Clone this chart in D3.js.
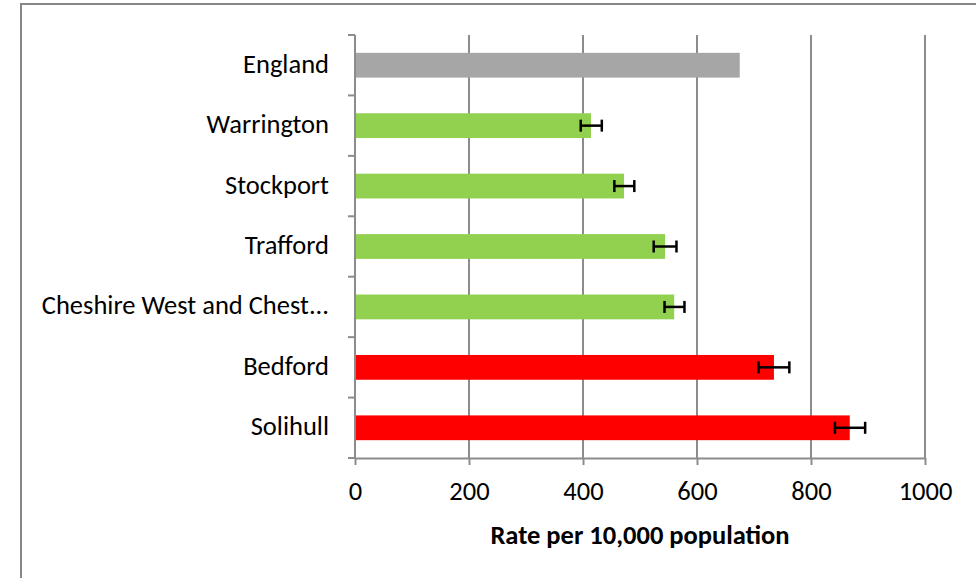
<!DOCTYPE html>
<html><head><meta charset="utf-8">
<script src="https://cdn.jsdelivr.net/npm/d3@7"></script>
<style>body{margin:0;background:#fff}svg{display:block}</style>
</head><body>
<svg id="c" width="976" height="578"></svg>
<script>
const categories = ["England","Warrington","Stockport","Trafford","Cheshire West and Chest...","Bedford","Solihull"];
const values = [675,414,472,544,560,735,868];
const lowerCI = [null,396,455,524,543,708,842];
const upperCI = [null,433,490,564,578,762,895];
const groups = ["england","better","better","better","better","worse","worse"];
const xTicks = [0,200,400,600,800,1000];
const xTitle = "Rate per 10,000 population";
const colors = {england:"#A6A6A6", better:"#92D050", worse:"#FF0000"};

(function(){
const svg = d3.select("#c");
const font = "Calibri, Carlito, 'Open Sans', sans-serif";
const fs = 26.5;
const pL = 355, pR = 925, pT = 35, pB = 458;

svg.append("rect").attr("x",21).attr("y",4).attr("width",1000).attr("height",1000)
  .attr("fill","#fff").attr("stroke","#878787").attr("stroke-width",2);

const x = d3.scaleLinear().domain([0,1000]).range([pL,pR]);
const y = d3.scaleBand().domain(categories).range([pT,pB]).paddingInner(0.59).paddingOuter(0.295);

// gridlines
svg.append("g").selectAll("line").data(xTicks.slice(1)).join("line")
  .attr("x1",d=>x(d)).attr("x2",d=>x(d)).attr("y1",pT).attr("y2",pB)
  .attr("stroke","#8c8c8c").attr("stroke-width",2);

// x axis
const xa = svg.append("g").attr("transform",`translate(0,${pB})`)
  .call(d3.axisBottom(x).tickValues(xTicks).tickFormat(d3.format("d")).tickSize(7).tickSizeOuter(0));
xa.select(".domain").attr("stroke","#8c8c8c").attr("stroke-width",2);
xa.selectAll(".tick line").attr("stroke","#8c8c8c").attr("stroke-width",2);
xa.selectAll("text").attr("font-family",font).attr("font-size",fs).attr("fill","#000")
  .attr("y",42).attr("dy",null);

// y axis
const yStep = (pB-pT)/categories.length;
const ya = svg.append("g").attr("transform",`translate(${pL},0)`);
ya.append("line").attr("x1",0).attr("x2",0).attr("y1",pT).attr("y2",pB).attr("stroke","#8c8c8c").attr("stroke-width",2);
ya.selectAll("line.t").data(d3.range(categories.length+1)).join("line").attr("class","t")
  .attr("x1",-7).attr("x2",0).attr("y1",i=>pT+i*yStep).attr("y2",i=>pT+i*yStep)
  .attr("stroke","#8c8c8c").attr("stroke-width",2);
ya.selectAll("text").data(categories).join("text")
  .attr("x",-26).attr("y",d=>y(d)+y.bandwidth()/2+7.5)
  .attr("text-anchor","end").attr("font-family",font).attr("font-size",fs).attr("fill","#000")
  .text(d=>d);

// bars
svg.append("g").selectAll("rect").data(categories).join("rect")
  .attr("x",x(0)+1).attr("y",d=>y(d)).attr("height",y.bandwidth())
  .attr("width",(d,i)=>x(values[i])-x(0)-1)
  .attr("fill",(d,i)=>colors[groups[i]]);

// error bars
const eb = svg.append("g").attr("stroke","#000").attr("stroke-width",2.5);
categories.forEach((c,i)=>{
  if(lowerCI[i]==null) return;
  const cy = y(c)+y.bandwidth()/2;
  eb.append("line").attr("x1",x(lowerCI[i])).attr("x2",x(upperCI[i])).attr("y1",cy).attr("y2",cy);
  eb.append("line").attr("x1",x(lowerCI[i])).attr("x2",x(lowerCI[i])).attr("y1",cy-6).attr("y2",cy+6);
  eb.append("line").attr("x1",x(upperCI[i])).attr("x2",x(upperCI[i])).attr("y1",cy-6).attr("y2",cy+6);
});

svg.append("text").attr("x",640).attr("y",544).attr("text-anchor","middle")
  .attr("font-family",font).attr("font-size",fs).attr("font-weight","bold").attr("fill","#000")
  .text(xTitle);
})();
</script>
</body></html>
